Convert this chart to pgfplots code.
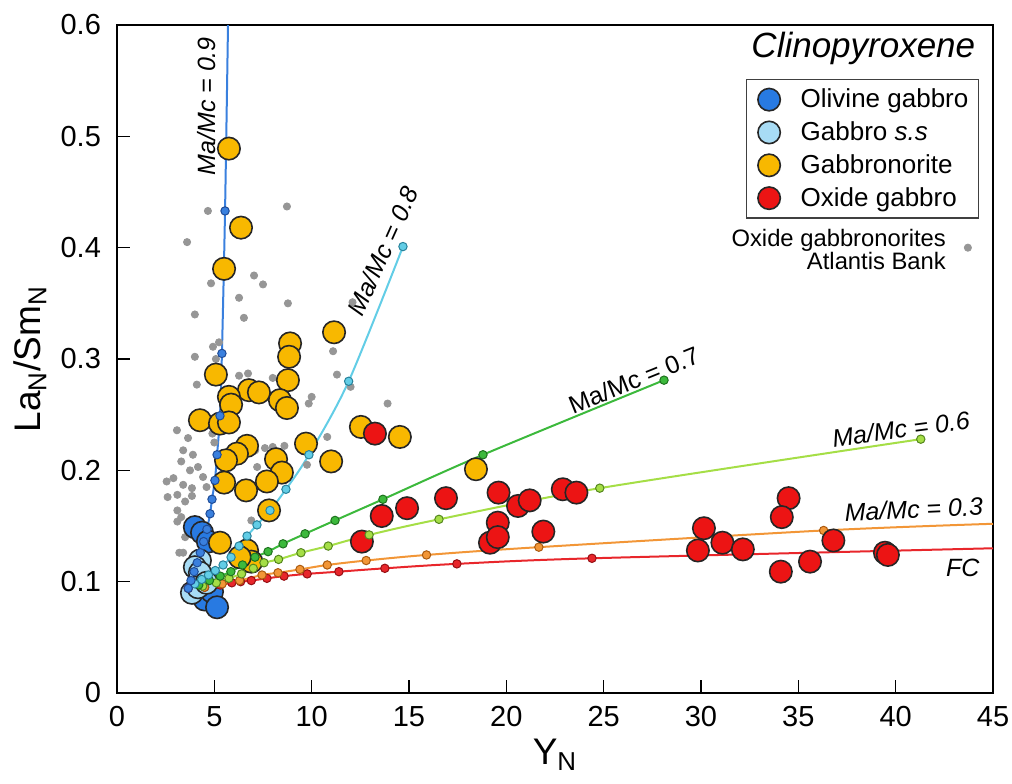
\documentclass[border=0pt]{standalone}
\usepackage{fontspec}
\setmainfont{Liberation Sans}
\usepackage{pgfplots}
\pgfplotsset{compat=1.18}

% sample colours
\definecolor{olgab}{RGB}{40,122,226}
\definecolor{gabss}{RGB}{168,220,245}
\definecolor{gabnor}{RGB}{248,184,0}
\definecolor{oxgab}{RGB}{236,20,20}
\definecolor{atlantis}{RGB}{150,150,150}
% model curve colours (line / dot outline)
\definecolor{cA}{RGB}{58,128,222}   \definecolor{cAd}{RGB}{30,75,150}
\definecolor{cB}{RGB}{98,205,230}   \definecolor{cBd}{RGB}{40,130,155}
\definecolor{cC}{RGB}{60,185,60}    \definecolor{cCd}{RGB}{30,115,30}
\definecolor{cD}{RGB}{165,222,70}   \definecolor{cDd}{RGB}{85,135,30}
\definecolor{cE}{RGB}{242,150,55}   \definecolor{cEd}{RGB}{170,90,15}
\definecolor{cF}{RGB}{232,38,43}    \definecolor{cFd}{RGB}{150,15,20}

\pgfplotsset{
  datapt/.style={only marks, mark=*, mark size=5.6pt,
    mark options={fill=#1, draw=black!85, line width=0.8pt},
    legend image code/.code={\path (-8pt,0pt) (6pt,0pt);
      \draw[##1] plot coordinates {(0pt,0pt)};}},
  curveline/.style={forget plot, smooth, no marks, line width=1pt, color=#1},
  curvedots/.style 2 args={forget plot, only marks, mark=*, mark size=2.1pt,
    mark options={fill=#1, draw=#2, line width=0.5pt}},
}

\begin{document}
\begin{tikzpicture}
\useasboundingbox (-58.5pt,-45pt) rectangle (447.5pt,346.5pt);
\begin{axis}[
  at={(0pt,0pt)}, anchor=south west,
  scale only axis, width=438pt, height=334pt,
  xmin=0, xmax=45, ymin=0, ymax=0.6,
  xtick={0,5,10,15,20,25,30,35,40,45},
  ytick={0,0.1,0.2,0.3,0.4,0.5,0.6},
  tick align=inside, xtick pos=bottom, ytick pos=left,
  major tick length=6.5pt,
  tick style={line width=0.8pt, black},
  axis line style={line width=0.8pt},
  /pgf/number format/assume math mode=true,
  ticklabel style={font=\fontsize{14.5}{16}\selectfont},
  xticklabel style={yshift=-3pt},
  yticklabel style={xshift=-4.5pt},
  every axis x label/.style={at={(axis description cs:0.5,-0.093)}, anchor=center},
  every axis y label/.style={at={(axis description cs:-0.0993,0.5)}, anchor=center, rotate=90},
  label style={font=\fontsize{18.5}{21}\selectfont},
  xlabel={Y\textsubscript{N}},
  ylabel={La\textsubscript{N}/Sm\textsubscript{N}},
  legend style={at={(axis description cs:0.984,0.919)}, anchor=north east,
    draw=black!75, line width=0.6pt, font=\fontsize{13}{15}\selectfont,
    inner xsep=3pt, inner ysep=2.5pt, row sep=1.5pt,
    /tikz/every odd column/.append style={column sep=7.5pt}},
  legend cell align=left,
]

% Atlantis Bank oxide gabbronorites
\addplot[forget plot, only marks, mark=*, mark size=1.8pt, color=atlantis] coordinates {
(4.67,0.433) (3.6,0.405) (8.73,0.437) (7.04,0.375) (7.5,0.367) (4.83,0.368)
(6.27,0.355) (8.78,0.350) (4.0,0.340) (6.52,0.337) (5.24,0.315) (4.93,0.311)
(4.0,0.302) (5.08,0.300) (6.27,0.285) (6.73,0.287) (11.1,0.307) (11.3,0.286)
(12.1,0.351) (12.0,0.275) (4.1,0.277) (8.0,0.283) (13.9,0.260) (10.0,0.266)
(9.85,0.260) (10.8,0.230) (9.76,0.205) (7.2,0.203) (8.0,0.221) (8.6,0.222)
(7.1,0.218) (7.6,0.220) (3.08,0.236) (3.65,0.229) (3.4,0.218) (3.9,0.214)
(3.3,0.208) (4.16,0.203) (3.75,0.200) (2.55,0.190) (2.9,0.193) (3.4,0.187)
(3.85,0.184) (2.6,0.176) (3.1,0.178) (3.5,0.172) (3.85,0.177) (3.1,0.164)
(3.3,0.158) (3.1,0.154) (3.4,0.126) (3.5,0.140) (4.42,0.194) (4.6,0.185)
(5.0,0.225) (4.9,0.233) (6.9,0.155) (3.2,0.126)
};
\addplot[forget plot, only marks, mark=*, mark size=1.8pt, color=atlantis] coordinates {(43.71,0.400)};

% olivine gabbro and gabbro s.s
\addplot[datapt=olgab] coordinates {
(4.0,0.149) (4.37,0.144) (4.67,0.136) (4.26,0.090) (4.5,0.084) (4.88,0.091) (5.14,0.077) (4.6,0.102)
};
\addlegendentry{Olivine gabbro}
\addplot[datapt=gabss] coordinates {
(4.26,0.119) (4.0,0.113) (4.26,0.108) (3.85,0.090) (4.16,0.095) (4.6,0.099)
};
\addlegendentry{Gabbro \textit{s.s}}

% FC and Ma/Mc = 0.3
\addplot[curveline=cF] coordinates {(3.66,0.094) (4.5,0.095) (5.3,0.097) (5.9,0.099) (6.35,0.100) (6.9,0.101) (7.7,0.103) (8.58,0.105) (9.77,0.107) (11.4,0.109) (13.76,0.112) (17.46,0.116) (24.4,0.121) (45,0.130)};
\addplot[curvedots={cF}{cFd}] coordinates {(3.66,0.094) (4.5,0.095) (5.3,0.097) (5.9,0.099) (6.35,0.100) (6.9,0.101) (7.7,0.103) (8.58,0.105) (9.77,0.107) (11.4,0.109) (13.76,0.112) (17.46,0.116) (24.4,0.121)};
\addplot[curveline=cE] coordinates {(3.66,0.094) (4.5,0.095) (5.4,0.098) (6.3,0.101) (7.45,0.106) (8.27,0.108) (9.4,0.111) (10.8,0.115) (12.8,0.119) (15.9,0.124) (21.67,0.131) (36.3,0.146) (45,0.152)};
\addplot[curvedots={cE}{cEd}] coordinates {(4.5,0.095) (5.4,0.098) (6.3,0.101) (7.45,0.106) (8.27,0.108) (9.4,0.111) (10.8,0.115) (12.8,0.119) (15.9,0.124) (21.67,0.131) (36.3,0.146)};

% gabbronorite and oxide gabbro
\addplot[datapt=gabnor] coordinates {
(5.75,0.489) (6.37,0.418) (5.50,0.381) (11.15,0.324) (8.89,0.314) (8.84,0.302)
(5.08,0.286) (8.78,0.281) (6.78,0.272) (7.29,0.270) (8.37,0.263) (8.73,0.256)
(5.75,0.266) (5.86,0.259) (4.26,0.245) (5.29,0.242) (5.75,0.243) (9.71,0.224)
(6.68,0.222) (6.16,0.215) (5.6,0.209) (8.17,0.210) (8.47,0.198) (11.0,0.208)
(5.5,0.189) (6.63,0.182) (7.7,0.190) (7.81,0.164) (12.53,0.239) (14.53,0.230)
(18.44,0.201) (5.29,0.135) (6.68,0.128) (6.9,0.118) (6.3,0.122)
};
\addlegendentry{Gabbronorite}
\addplot[datapt=oxgab] coordinates {
(13.25,0.233) (12.58,0.136) (13.6,0.159) (14.9,0.166) (16.9,0.175) (19.6,0.180)
(20.6,0.168) (21.2,0.173) (19.56,0.153) (19.16,0.135) (19.56,0.140) (21.9,0.145)
(22.9,0.183) (23.6,0.180) (30.15,0.148) (29.84,0.128) (31.1,0.135) (32.15,0.129)
(34.5,0.175) (34.15,0.158) (34.1,0.109) (35.6,0.118) (36.8,0.137) (39.45,0.126)
(39.6,0.124)
};
\addlegendentry{Oxide gabbro}

% Ma/Mc = 0.6, 0.7, 0.8, 0.9
\addplot[curveline=cD] coordinates {(3.66,0.094) (4.4,0.096) (5.1,0.099) (5.75,0.103) (6.4,0.107) (7.0,0.112) (7.55,0.117) (8.3,0.120) (9.45,0.126) (10.85,0.132) (12.95,0.142) (16.54,0.156) (24.8,0.184) (41.29,0.228)};
\addplot[curvedots={cD}{cDd}] coordinates {(4.4,0.096) (5.1,0.099) (5.75,0.103) (6.4,0.107) (7.0,0.112) (7.55,0.117) (8.3,0.120) (9.45,0.126) (10.85,0.132) (12.95,0.142) (16.54,0.156) (24.8,0.184) (41.29,0.228)};
\addplot[curveline=cC] coordinates {(3.66,0.094) (4.2,0.097) (4.75,0.101) (5.3,0.105) (5.85,0.109) (6.45,0.115) (7.09,0.122) (7.76,0.127) (8.53,0.134) (9.66,0.143) (11.2,0.155) (13.66,0.174) (18.8,0.214) (28.1,0.281)};
\addplot[curvedots={cC}{cCd}] coordinates {(4.2,0.097) (4.75,0.101) (5.3,0.105) (5.85,0.109) (6.45,0.115) (7.09,0.122) (7.76,0.127) (8.53,0.134) (9.66,0.143) (11.2,0.155) (13.66,0.174) (18.8,0.214) (28.1,0.281)};
\addplot[curveline=cB] coordinates {(3.66,0.094) (4.0,0.098) (4.35,0.102) (4.7,0.106) (5.05,0.110) (5.45,0.115) (5.86,0.122) (6.27,0.132) (6.68,0.141) (7.19,0.151) (7.86,0.164) (8.68,0.183) (9.86,0.214) (11.9,0.280) (14.69,0.401)};
\addplot[curvedots={cB}{cBd}] coordinates {(4.0,0.098) (4.35,0.102) (4.7,0.106) (5.05,0.110) (5.45,0.115) (5.86,0.122) (6.27,0.132) (6.68,0.141) (7.19,0.151) (7.86,0.164) (8.68,0.183) (9.86,0.214) (11.9,0.280) (14.69,0.401)};
\addplot[curveline=cA] coordinates {(3.66,0.094) (3.8,0.101) (3.96,0.109) (4.12,0.117) (4.28,0.126) (4.45,0.136) (4.62,0.147) (4.78,0.161) (4.88,0.174) (5.03,0.191) (5.14,0.214) (5.29,0.249) (5.39,0.305) (5.55,0.433) (5.72,0.62)};
\addplot[curvedots={cA}{cAd}] coordinates {(3.66,0.094) (3.8,0.101) (3.96,0.109) (4.12,0.117) (4.28,0.126) (4.45,0.136) (4.62,0.147) (4.78,0.161) (4.88,0.174) (5.03,0.191) (5.14,0.214) (5.29,0.249) (5.39,0.305) (5.55,0.433)};

% curve labels
\node[rotate=90, font=\fontsize{12.5}{14}\selectfont\itshape] at (axis cs:4.62,0.527) {Ma/Mc = 0.9};
\node[rotate=65.7, font=\fontsize{12.5}{14}\selectfont\itshape] at (axis cs:13.66,0.397) {Ma/Mc = 0.8};
\node[rotate=22, font=\fontsize{12.5}{14}\selectfont] at (axis cs:26.55,0.281) {Ma/Mc = 0.7};
\node[rotate=7.5, font=\fontsize{12.5}{14}\selectfont\itshape] at (axis cs:40.27,0.237) {Ma/Mc = 0.6};
\node[rotate=2.5, font=\fontsize{12.5}{14}\selectfont\itshape] at (axis cs:40.93,0.165) {Ma/Mc = 0.3};
\node[font=\fontsize{12.5}{14}\selectfont\itshape] at (axis cs:43.45,0.112) {FC};

% panel title and Atlantis Bank key
\node[font=\fontsize{17.5}{20}\selectfont\itshape] at (axis cs:38.34,0.579) {Clinopyroxene};
\node[anchor=east, align=right, inner sep=0pt, font=\fontsize{11.9}{11.5}\selectfont] at (axis cs:42.6,0.398) {Oxide gabbronorites\\Atlantis Bank};
\end{axis}
\end{tikzpicture}
\end{document}
